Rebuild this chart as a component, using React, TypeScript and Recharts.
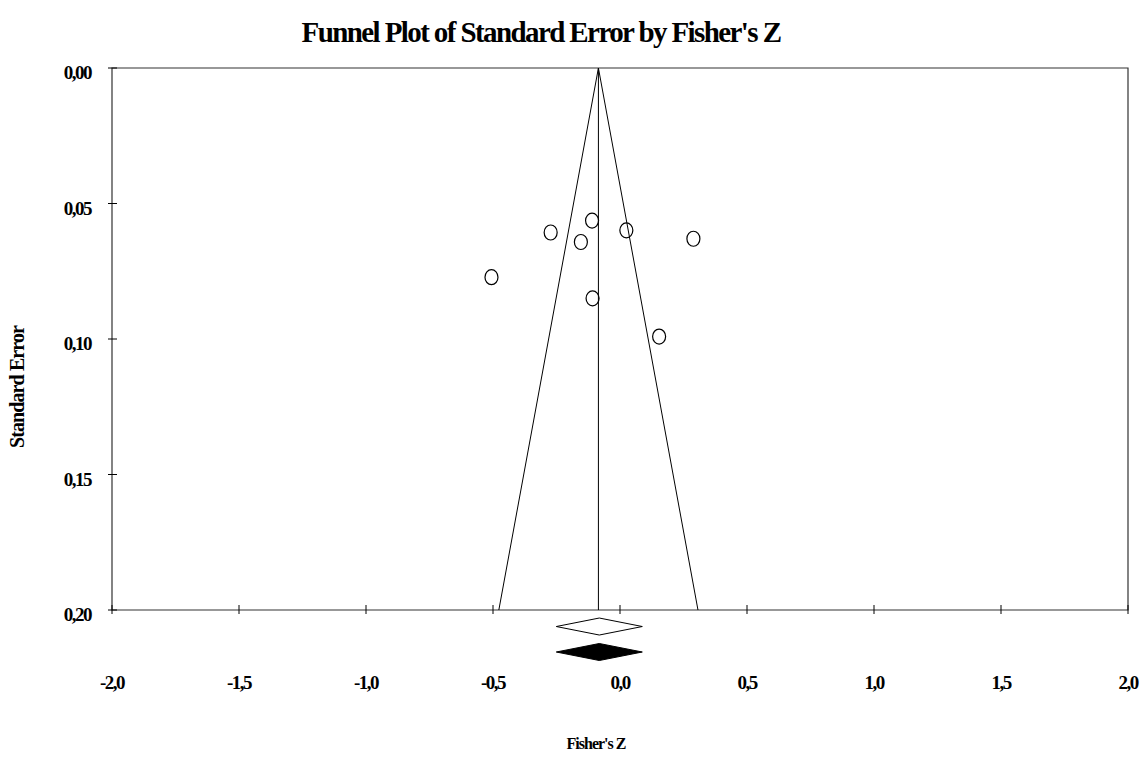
import { ScatterChart, Scatter, XAxis, YAxis, ReferenceLine, ReferenceDot, ReferenceArea } from "recharts";

// studies: Fisher's Z and standard error
const fisherZ = [-0.506, -0.273, -0.11, -0.154, 0.025, 0.289, -0.108, 0.154];
const stdError = [0.0772, 0.0607, 0.0563, 0.0642, 0.0599, 0.063, 0.085, 0.0991];

const xTicks = [-2, -1.5, -1, -0.5, 0, 0.5, 1, 1.5, 2];
const yTicks = [0, 0.05, 0.1, 0.15, 0.2];

const meanZ = -0.085;
const funnelLeft = [
  { x: -0.085, y: 0 },
  { x: -0.477, y: 0.2 },
];
const funnelRight = [
  { x: -0.085, y: 0 },
  { x: 0.307, y: 0.2 },
];

// summary diamonds drawn under the axis
const summary = [
  { x: -0.0815, y: 0.2061, fill: "#fff" },
  { x: -0.0815, y: 0.2155, fill: "#000" },
];

const data = fisherZ.map((z, i) => ({ x: z, y: stdError[i] }));

const fmt = (v: number, d: number) => v.toFixed(d).replace(".", ",");

const FONT = "'Liberation Serif', 'DejaVu Serif', serif";

function XTick(props: any) {
  const { x, y, payload } = props;
  return (
    <g>
      <line x1={x} x2={x} y1={y - 5} y2={y + 4} stroke="#000" />
      <text x={x} y={y + 79} textAnchor="middle" fontFamily={FONT} fontWeight="bold" fontSize={19} letterSpacing={-1.5}>
        {fmt(payload.value, 1)}
      </text>
    </g>
  );
}

function YTick(props: any) {
  const { x, y, payload } = props;
  return (
    <g>
      <line x1={x - 4} x2={x + 5} y1={y} y2={y} stroke="#000" />
      <text x={x - 21} y={y + 11} textAnchor="end" fontFamily={FONT} fontWeight="bold" fontSize={19} letterSpacing={-1.5}>
        {fmt(payload.value, 2)}
      </text>
    </g>
  );
}

function Ring(props: any) {
  const { cx, cy } = props;
  return <ellipse cx={cx} cy={cy} rx={6.5} ry={7.5} fill="none" stroke="#000" strokeWidth={1.2} />;
}

function makeDiamond(fill: string) {
  return (props: any) => {
    const { cx, cy } = props;
    const hw = 43;
    const hh = 8.5;
    return (
      <polygon
        points={`${cx - hw},${cy} ${cx},${cy - hh} ${cx + hw},${cy} ${cx},${cy + hh}`}
        fill={fill}
        stroke="#000"
        strokeWidth={1}
      />
    );
  };
}

export default function App() {
  return (
    <div style={{ position: "absolute", left: 0, top: 0, background: "#fff" }}>
      <ScatterChart width={1142} height={757} margin={{ top: 68, right: 14, bottom: 57, left: 52 }}>
        <text x={541} y={42} textAnchor="middle" fontFamily={FONT} fontWeight="bold" fontSize={29} letterSpacing={-1.6}>
          Funnel Plot of Standard Error by Fisher's Z
        </text>
        <text x={596} y={749} textAnchor="middle" fontFamily={FONT} fontWeight="bold" fontSize={16} letterSpacing={-1}>
          Fisher's Z
        </text>
        <text
          x={24}
          y={387}
          transform="rotate(-90 24 387)"
          textAnchor="middle"
          fontFamily={FONT}
          fontWeight="bold"
          fontSize={20}
          letterSpacing={-0.9}
        >
          Standard Error
        </text>
        <XAxis
          type="number"
          dataKey="x"
          domain={[-2, 2]}
          ticks={xTicks}
          interval={0}
          height={90}
          tickSize={0}
          tickMargin={0}
          tickLine={false}
          tick={<XTick />}
          axisLine={false}
        />
        <YAxis
          type="number"
          dataKey="y"
          domain={[0, 0.2]}
          reversed
          ticks={yTicks}
          interval={0}
          width={60}
          tickSize={0}
          tickMargin={0}
          tickLine={false}
          tick={<YTick />}
          axisLine={false}
        />
        <ReferenceArea x1={-2} x2={2} y1={0} y2={0.2} fill="none" stroke="#333" strokeWidth={1.2} />
        <ReferenceLine segment={funnelLeft} stroke="#000" strokeWidth={1} />
        <ReferenceLine segment={funnelRight} stroke="#000" strokeWidth={1} />
        <ReferenceLine x={meanZ} stroke="#000" strokeWidth={1} />
        {summary.map((d, i) => (
          <ReferenceDot key={i} x={d.x} y={d.y} r={8} ifOverflow="visible" shape={makeDiamond(d.fill)} />
        ))}
        <Scatter data={data} shape={<Ring />} isAnimationActive={false} />
      </ScatterChart>
    </div>
  );
}
